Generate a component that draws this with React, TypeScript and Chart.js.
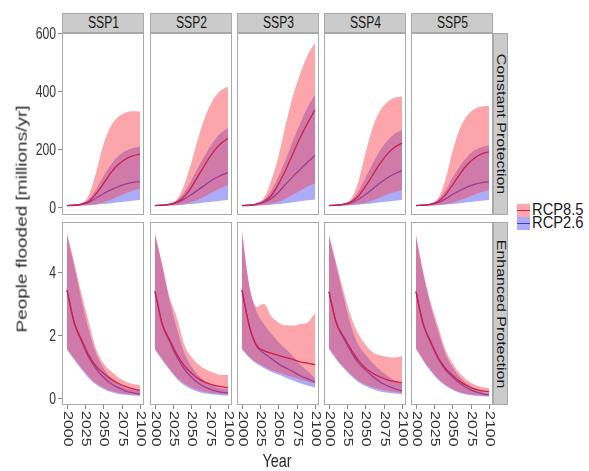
import React, { useEffect, useRef } from "react";
import { Chart, registerables } from "chart.js";

Chart.register(...registerables);

// ---------- data ----------
const years = [2000, 2010, 2020, 2030, 2040, 2050, 2060, 2070, 2080, 2090, 2100];
const sspLabels = ["SSP1", "SSP2", "SSP3", "SSP4", "SSP5"];
const rowLabels = ["Constant Protection", "Enhanced Protection"];
const seriesLabels = ["RCP8.5", "RCP2.6"];
const xTicks = [2000, 2025, 2050, 2075, 2100];
const yTicksConstant = [0, 200, 400, 600];
const yTicksEnhanced = [0, 2, 4];
const yTitle = "People flooded [millions/yr]";
const xTitle = "Year";

// Constant protection (millions/yr), one row per SSP1..SSP5
const constRcp85Lo = [
  [3, 3, 4, 6, 9, 15, 24, 35, 46, 55, 61],
  [3, 3, 4, 6, 10, 16, 26, 38, 52, 65, 75],
  [3, 3, 4, 6, 10, 17, 28, 42, 56, 70, 81],
  [3, 3, 4, 6, 9, 14, 22, 32, 42, 51, 58],
  [3, 3, 4, 6, 9, 14, 22, 32, 42, 51, 58],
];
const constRcp85Med = [
  [4, 5, 9, 19, 45, 80, 117, 145, 164, 176, 182],
  [4, 5, 8, 16, 35, 68, 110, 152, 190, 218, 237],
  [4, 5, 9, 18, 38, 78, 128, 185, 240, 290, 335],
  [4, 5, 8, 16, 36, 70, 110, 150, 183, 206, 220],
  [4, 5, 8, 17, 40, 75, 112, 145, 168, 183, 190],
];
const constRcp85Hi = [
  [5, 7, 12, 40, 120, 215, 278, 310, 325, 330, 329],
  [5, 7, 12, 25, 75, 155, 245, 320, 372, 402, 415],
  [5, 7, 13, 30, 90, 175, 285, 385, 462, 525, 568],
  [5, 7, 12, 25, 85, 185, 275, 332, 362, 377, 381],
  [5, 7, 12, 28, 90, 190, 270, 315, 338, 347, 348],
];
const constRcp26Lo = [
  [3, 3, 4, 5, 7, 9, 12, 15, 18, 21, 23],
  [3, 3, 4, 5, 7, 9, 12, 15, 18, 21, 23],
  [3, 3, 4, 5, 7, 9, 12, 15, 19, 22, 25],
  [3, 3, 4, 5, 7, 9, 12, 15, 18, 21, 23],
  [3, 3, 4, 5, 7, 9, 12, 15, 18, 21, 23],
];
const constRcp26Med = [
  [4, 5, 8, 15, 30, 45, 58, 69, 78, 84, 87],
  [4, 5, 8, 14, 26, 42, 60, 78, 95, 108, 118],
  [4, 5, 8, 15, 28, 50, 78, 105, 130, 155, 177],
  [4, 5, 8, 13, 25, 42, 62, 82, 100, 114, 125],
  [4, 5, 8, 14, 26, 42, 56, 68, 77, 83, 87],
];
const constRcp26Hi = [
  [5, 6, 11, 26, 60, 105, 145, 175, 193, 203, 208],
  [5, 6, 10, 22, 50, 92, 140, 185, 225, 255, 272],
  [5, 6, 11, 24, 55, 105, 165, 230, 290, 345, 387],
  [5, 6, 10, 22, 52, 100, 150, 195, 228, 252, 265],
  [5, 6, 10, 24, 55, 100, 140, 172, 195, 207, 213],
];

// Enhanced protection (millions/yr)
const enhRcp85Lo = [
  [1.55, 1.25, 0.95, 0.68, 0.45, 0.32, 0.22, 0.16, 0.12, 0.09, 0.08],
  [1.55, 1.22, 0.92, 0.65, 0.45, 0.33, 0.24, 0.18, 0.14, 0.12, 0.1],
  [1.56, 1.3, 1.12, 1.0, 0.88, 0.8, 0.72, 0.65, 0.58, 0.52, 0.45],
  [1.57, 1.25, 0.98, 0.75, 0.55, 0.42, 0.33, 0.27, 0.22, 0.18, 0.15],
  [1.57, 1.2, 0.88, 0.62, 0.42, 0.28, 0.18, 0.12, 0.09, 0.07, 0.06],
];
const enhRcp85Med = [
  [3.43, 2.4, 1.85, 1.35, 1.0, 0.78, 0.6, 0.46, 0.36, 0.28, 0.23],
  [3.4, 2.35, 1.85, 1.38, 1.02, 0.78, 0.6, 0.48, 0.4, 0.35, 0.32],
  [3.43, 2.3, 1.67, 1.5, 1.42, 1.35, 1.28, 1.22, 1.14, 1.1, 1.05],
  [3.38, 2.4, 1.95, 1.55, 1.2, 0.95, 0.78, 0.66, 0.57, 0.51, 0.48],
  [3.38, 2.35, 1.8, 1.3, 0.95, 0.72, 0.52, 0.38, 0.28, 0.22, 0.19],
];
const enhRcp85Hi = [
  [5.25, 4.3, 3.3, 2.4, 1.55, 1.1, 0.85, 0.65, 0.52, 0.44, 0.4],
  [5.25, 4.25, 3.2, 2.55, 1.7, 1.3, 1.05, 0.9, 0.8, 0.72, 0.72],
  [5.3, 3.6, 2.9, 3.0, 2.6, 2.4, 2.3, 2.3, 2.35, 2.4, 2.7],
  [5.2, 4.3, 3.4, 2.6, 2.05, 1.7, 1.45, 1.35, 1.3, 1.28, 1.32],
  [5.2, 4.0, 3.05, 2.3, 1.55, 1.1, 0.78, 0.56, 0.42, 0.34, 0.3],
];
const enhRcp26Lo = [
  [1.55, 1.2, 0.9, 0.62, 0.42, 0.28, 0.18, 0.12, 0.09, 0.07, 0.05],
  [1.55, 1.2, 0.88, 0.6, 0.4, 0.27, 0.18, 0.13, 0.1, 0.08, 0.07],
  [1.55, 1.28, 1.08, 0.95, 0.83, 0.74, 0.64, 0.55, 0.46, 0.39, 0.32],
  [1.56, 1.22, 0.95, 0.7, 0.5, 0.37, 0.27, 0.2, 0.16, 0.13, 0.11],
  [1.56, 1.18, 0.85, 0.58, 0.39, 0.25, 0.15, 0.09, 0.06, 0.05, 0.04],
];
const enhRcp26Med = [
  [3.42, 2.38, 1.8, 1.28, 0.92, 0.65, 0.45, 0.32, 0.22, 0.16, 0.12],
  [3.4, 2.33, 1.8, 1.3, 0.92, 0.65, 0.45, 0.32, 0.23, 0.18, 0.15],
  [3.42, 2.28, 1.65, 1.42, 1.25, 1.08, 0.95, 0.83, 0.7, 0.6, 0.5],
  [3.38, 2.38, 1.9, 1.48, 1.12, 0.88, 0.68, 0.5, 0.38, 0.29, 0.22],
  [3.38, 2.33, 1.76, 1.26, 0.9, 0.66, 0.46, 0.31, 0.2, 0.13, 0.08],
];
const enhRcp26Hi = [
  [5.2, 4.2, 3.1, 2.15, 1.4, 0.95, 0.65, 0.45, 0.32, 0.25, 0.2],
  [5.2, 4.2, 3.1, 2.2, 1.45, 1.0, 0.7, 0.5, 0.38, 0.3, 0.26],
  [5.25, 3.55, 2.75, 2.35, 2.05, 1.78, 1.55, 1.32, 1.05, 0.85, 0.62],
  [5.15, 4.2, 3.2, 2.3, 1.7, 1.38, 1.1, 0.88, 0.7, 0.55, 0.45],
  [5.15, 3.95, 2.95, 2.15, 1.42, 0.98, 0.66, 0.45, 0.3, 0.2, 0.15],
];

// ---------- style / layout ----------
const FONT = '"Liberation Sans", Arial, Helvetica, sans-serif';
const SQ = 0.76; // horizontal squeeze of the source image
const RED_BAND = "rgba(248,70,82,0.48)";
const BLUE_BAND = "rgba(80,80,240,0.48)";
const RED_LINE = "#d31e44";
const BLUE_LINE = "#3d36d6";
const BORDER = "#a9a9a9";
const TICK_MARK = "#8a8a8a";
const TICK_TEXT = "#333333";
const STRIP_FILL = "#cbcbcb";

const panelLefts = [62, 150, 237, 324, 411];
const panelWidth = 82;
const rowTops = [33, 222];
const rowHeights = [182, 183];
const xRange = [1993.2, 2105.5];
const yRanges = [
  [-28.7, 601],
  [-0.233, 5.604],
];
const yAxisSpace = 62;
const xAxisSpace = 471 - 405;
const extraTop = 12;
const extraRight = 10;

function Panel({ row, col }: { row: number; col: number }) {
  const ref = useRef<HTMLCanvasElement>(null);
  const showY = col === 0;
  const showX = row === 1;
  const padL = showY ? yAxisSpace : 0;
  const padB = showX ? xAxisSpace : 0;
  const padT = showY ? extraTop : 0;
  const padR = showX ? extraRight : 0;
  const w = panelWidth + padL + padR;
  const h = rowHeights[row] + padB + padT;
  const left = panelLefts[col] - padL;
  const top = rowTops[row] - padT;

  useEffect(() => {
    const c = ref.current;
    if (!c) return;
    const src =
      row === 0
        ? [constRcp26Lo, constRcp26Hi, constRcp26Med, constRcp85Lo, constRcp85Hi, constRcp85Med]
        : [enhRcp26Lo, enhRcp26Hi, enhRcp26Med, enhRcp85Lo, enhRcp85Hi, enhRcp85Med];
    const pts = (arr: number[]) => arr.map((v, i) => ({ x: years[i], y: v }));
    const yTicks = row === 0 ? yTicksConstant : yTicksEnhanced;
    const base = {
      pointRadius: 0,
      cubicInterpolationMode: "monotone" as const,
    };
    const frame = {
      id: "frame",
      afterDraw(chart: any) {
        const { ctx, chartArea: a, scales } = chart;
        ctx.save();
        ctx.strokeStyle = BORDER;
        ctx.lineWidth = 1;
        ctx.strokeRect(a.left + 0.5, a.top + 0.5, a.right - a.left - 1, a.bottom - a.top - 1);
        ctx.font = `16px ${FONT}`;
        ctx.fillStyle = TICK_TEXT;
        ctx.strokeStyle = TICK_MARK;
        if (showY) {
          for (const v of yTicks) {
            const py = Math.round(scales.y.getPixelForValue(v)) + 0.5;
            ctx.beginPath();
            ctx.moveTo(a.left - 4, py);
            ctx.lineTo(a.left, py);
            ctx.stroke();
            ctx.save();
            ctx.translate(a.left - 6, py);
            ctx.scale(SQ, 1);
            ctx.textAlign = "right";
            ctx.textBaseline = "middle";
            ctx.fillText(String(v), 0, 1);
            ctx.restore();
          }
        }
        if (showX) {
          for (const v of xTicks) {
            const px = Math.round(scales.x.getPixelForValue(v)) + 0.5;
            ctx.beginPath();
            ctx.moveTo(px, a.bottom);
            ctx.lineTo(px, a.bottom + 4);
            ctx.stroke();
            ctx.save();
            ctx.translate(px, a.bottom + 6);
            ctx.scale(SQ, 1);
            ctx.rotate(Math.PI / 2);
            ctx.textAlign = "left";
            ctx.textBaseline = "middle";
            ctx.fillText(String(v), 0, 0);
            ctx.restore();
          }
        }
        ctx.restore();
      },
    };
    const chart = new Chart(c, {
      type: "line",
      data: {
        datasets: [
          { ...base, label: "RCP2.6 low", data: pts(src[0][col]), borderColor: "transparent", borderWidth: 0, fill: false, order: 6 },
          { ...base, label: "RCP2.6 high", data: pts(src[1][col]), borderColor: "transparent", borderWidth: 0, backgroundColor: BLUE_BAND, fill: "-1", order: 5 },
          { ...base, label: seriesLabels[1], data: pts(src[2][col]), borderColor: BLUE_LINE, borderWidth: 1.3, fill: false, order: 4 },
          { ...base, label: "RCP8.5 low", data: pts(src[3][col]), borderColor: "transparent", borderWidth: 0, fill: false, order: 3 },
          { ...base, label: "RCP8.5 high", data: pts(src[4][col]), borderColor: "transparent", borderWidth: 0, backgroundColor: RED_BAND, fill: "-1", order: 2 },
          { ...base, label: seriesLabels[0], data: pts(src[5][col]), borderColor: RED_LINE, borderWidth: 1.3, fill: false, order: 1 },
        ],
      },
      options: {
        animation: false,
        responsive: false,
        devicePixelRatio: 1,
        events: [],
        layout: { padding: { left: padL, bottom: padB, top: padT, right: padR } },
        plugins: { legend: { display: false }, tooltip: { enabled: false } },
        scales: {
          x: { type: "linear", display: false, min: xRange[0], max: xRange[1] },
          y: { type: "linear", display: false, min: yRanges[row][0], max: yRanges[row][1] },
        },
      },
      plugins: [frame],
    });
    return () => chart.destroy();
  }, []);

  return (
    <canvas
      ref={ref}
      width={w}
      height={h}
      style={{ position: "absolute", left, top, width: w, height: h }}
    />
  );
}

export default function App() {
  const panels = [];
  for (let r = 0; r < 2; r++) for (let c = 0; c < 5; c++) panels.push(<Panel key={`${r}-${c}`} row={r} col={c} />);
  const stripRight = panelLefts[4] + panelWidth;
  return (
    <div
      style={{
        position: "absolute",
        left: 0,
        top: 0,
        width: 589,
        height: 471,
        background: "#ffffff",
        overflow: "hidden",
        fontFamily: FONT,
        color: "#1a1a1a",
      }}
    >
      {sspLabels.map((s, c) => (
        <div
          key={s}
          style={{
            position: "absolute",
            left: panelLefts[c],
            top: 13,
            width: panelWidth,
            height: 20,
            boxSizing: "border-box",
            border: `1px solid ${BORDER}`,
            background: STRIP_FILL,
            display: "flex",
            alignItems: "center",
            justifyContent: "center",
            fontSize: 16,
          }}
        >
          <span style={{ display: "inline-block", transform: `scaleX(${SQ})` }}>{s}</span>
        </div>
      ))}
      {rowLabels.map((t, r) => (
        <div
          key={t}
          style={{
            position: "absolute",
            left: stripRight,
            top: rowTops[r],
            width: 15,
            height: rowHeights[r],
            boxSizing: "border-box",
            border: `1px solid ${BORDER}`,
            background: STRIP_FILL,
          }}
        >
          <div
            style={{
              position: "absolute",
              left: "50%",
              top: "50%",
              whiteSpace: "nowrap",
              fontSize: 16,
              lineHeight: "16px",
              transform: `translate(-50%, -50%) scaleX(${SQ}) rotate(90deg)`,
            }}
          >
            {t}
          </div>
        </div>
      ))}
      {panels}
      <div
        style={{
          position: "absolute",
          left: 22,
          top: 219,
          whiteSpace: "nowrap",
          fontSize: 19,
          fontWeight: 400,
          lineHeight: "20px",
          color: "#2a2a2a",
          transform: `translate(-50%, -50%) scaleX(${SQ}) rotate(-90deg)`,
        }}
      >
        {yTitle}
      </div>
      <div
        style={{
          position: "absolute",
          left: 277,
          top: 461,
          whiteSpace: "nowrap",
          fontSize: 19,
          lineHeight: "20px",
          color: "#2a2a2a",
          transform: `translate(-50%, -50%) scaleX(${SQ})`,
        }}
      >
        {xTitle}
      </div>
      {seriesLabels.map((s, i) => (
        <div key={s} style={{ position: "absolute", left: 517, top: 204 + i * 13, height: 13 }}>
          <div
            style={{
              position: "absolute",
              left: 0,
              top: 0,
              width: 13,
              height: 13,
              background: i === 0 ? RED_BAND : BLUE_BAND,
            }}
          >
            <div
              style={{
                position: "absolute",
                left: 0,
                top: 6,
                width: 13,
                height: 1.3,
                background: i === 0 ? RED_LINE : BLUE_LINE,
              }}
            />
          </div>
          <div
            style={{
              position: "absolute",
              left: 15,
              top: -2,
              fontSize: 16,
              lineHeight: "16px",
              whiteSpace: "nowrap",
              transformOrigin: "0 50%",
              transform: "scaleX(0.92)",
            }}
          >
            {s}
          </div>
        </div>
      ))}
    </div>
  );
}
